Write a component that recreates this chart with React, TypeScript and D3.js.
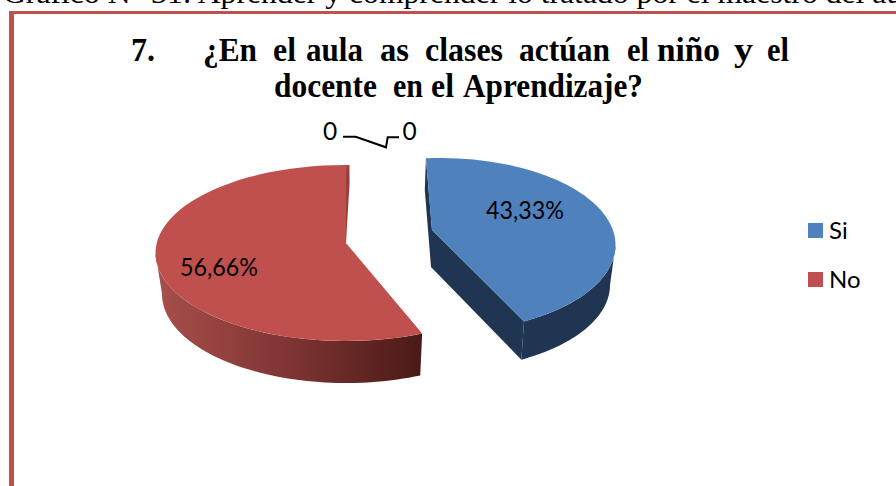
import React from "react";
import * as d3 from "d3";

const categories = ["Si", "No"];
const percentValues = [43.33, 56.66];
const percentLabels = ["43,33%", "56,66%"];
const zeroLabels = ["0", "0"];
const headerText = "Gráfico N° 31: Aprender y comprender lo tratado por el maestro del aula";
const titleWordsLine1 = ["7.", "¿En", "el", "aula", "as", "clases", "actúan", "el", "niño", "y", "el"];
const titleWordsLine2 = ["docente", "en", "el", "Aprendizaje?"];
const colors = ["#4f81bd", "#c0504d"];

const W = 896, H = 486;
const deg = Math.PI / 180;

// projection of each exploded slice: top ellipse, base ellipse, apex on top and base
const geom = [
  { rot: 0, top: { cx: 440, cy: 245, rx: 175.5, ry: 87 }, base: { cx: 440, cy: 285, rx: 170, ry: 85 }, apex: [432, 230], apexB: [431, 267], labelXY: [525, 219] },
  { rot: 4.8, top: { cx: 345.5, cy: 253, rx: 190, ry: 88 }, base: { cx: 346, cy: 294, rx: 184, ry: 89 }, apex: [345.7, 242.7], apexB: [345.7, 243], labelXY: [219, 276] },
];

type E = { cx: number; cy: number; rx: number; ry: number };
const at = (e: E, a: number): [number, number] => [e.cx + e.rx * Math.sin(a), e.cy - e.ry * Math.cos(a)];
const arcPts = (e: E, a0: number, a1: number) =>
  d3.range(0, 61).map((i) => at(e, a0 + ((a1 - a0) * i) / 60));
const line = d3.line();

const pie = d3.pie<number>().sort(null).startAngle(-4.6 * deg).endAngle(355.4 * deg);
const arcs = pie(percentValues);

const titleX1: [number, number][] = [[131, 155], [203, 257], [273, 296], [306, 363], [380, 409], [425, 503], [519, 610], [627, 649], [657, 720], [734, 753], [767, 789]];
const titleX2: [number, number][] = [[274, 377], [393, 423], [431, 454], [463, 643]];

export default function App() {
  const a0B = arcs[0].startAngle + geom[0].rot * deg;
  const a1B = arcs[0].endAngle + geom[0].rot * deg;
  const a0R = arcs[1].startAngle + geom[1].rot * deg;
  const a1R = arcs[1].endAngle + geom[1].rot * deg;
  const gB = geom[0], gR = geom[1];

  const blueTop = line([gB.apex as [number, number], ...arcPts(gB.top, a0B, a1B)]) + "Z";
  const blueWall = line([...arcPts(gB.top, 90 * deg, a1B), ...arcPts(gB.base, a1B, 90 * deg)]) + "Z";
  const s = at(gB.top, a0B), e = at(gB.top, a1B), eb = at(gB.base, a1B);
  const blueCut = line([s, [424.8, 190], gB.apexB as [number, number], eb, e, gB.apex as [number, number]]) + "Z";

  const redTop = line([gR.apex as [number, number], ...arcPts(gR.top, a0R, a1R)]) + "Z";
  const redWall = line([...arcPts(gR.top, a0R, 270 * deg), ...arcPts(gR.base, 270 * deg, a0R)]) + "Z";
  const r1 = at(gR.top, a1R);
  const redSliver = line([r1, [349.4, 165], [349.6, 183], [346, 243], [344, 241]]) + "Z";

  const tit = (words: string[], xs: [number, number][], y: number) =>
    words.map((w, i) => (
      <text key={w + i} x={xs[i][0]} y={y} textLength={xs[i][1] - xs[i][0]} lengthAdjust="spacingAndGlyphs"
        fontFamily="Liberation Serif" fontWeight="bold" fontSize={33} fill="#000">{w}</text>
    ));

  return (
    <svg width={W} height={H} style={{ position: "absolute", left: 0, top: 0, background: "#fff" }}>
      <defs>
        <linearGradient id="redWall" gradientUnits="userSpaceOnUse" x1={160} x2={422} y1={0} y2={0}>
          <stop offset="0" stopColor="#a64e4b" />
          <stop offset="0.5" stopColor="#7e3432" />
          <stop offset="1" stopColor="#4a1a17" />
        </linearGradient>
      </defs>
      <text x={3} y={3} textLength={922} lengthAdjust="spacingAndGlyphs" fontFamily="Liberation Serif" fontSize={30} fill="#000">{headerText}</text>
      <rect x={9} y={11} width={W - 9} height={3} fill="#c0504d" />
      <rect x={9} y={11} width={5} height={H - 11} fill="#c0504d" />

      {tit(titleWordsLine1, titleX1, 61)}
      {tit(titleWordsLine2, titleX2, 97)}

      <path d={redWall} fill="url(#redWall)" />
      <path d={redSliver} fill="#9b3f3c" />
      <path d={redTop} fill={colors[1]} />
      <path d={blueWall} fill="#1f3552" />
      <path d={blueCut} fill="#1f3552" />
      <path d={blueTop} fill={colors[0]} />

      {percentLabels.map((l, i) => (
        <text key={l} x={geom[i].labelXY[0]} y={geom[i].labelXY[1]} textAnchor="middle" textLength={78} lengthAdjust="spacingAndGlyphs"
          fontFamily="Lato" fontSize={24.5} fill="#000">{l}</text>
      ))}

      <path d={line([[343, 136.7], [355.7, 136.7], [386, 147.3], [387.7, 137.3], [399, 137.3]]) as string} fill="none" stroke="#000" strokeWidth={2} />
      <text x={330} y={139.5} textAnchor="middle" fontFamily="Lato" fontSize={24.5} fill="#000">{zeroLabels[0]}</text>
      <text x={409.5} y={139.5} textAnchor="middle" fontFamily="Lato" fontSize={24.5} fill="#000">{zeroLabels[1]}</text>

      {categories.map((c, i) => (
        <g key={c}>
          <rect x={808} y={223 + i * 49} width={15} height={15} fill={colors[i]} />
          <text x={829} y={238.5 + i * 49} fontFamily="Lato" fontSize={24} fill="#000">{c}</text>
        </g>
      ))}
    </svg>
  );
}
